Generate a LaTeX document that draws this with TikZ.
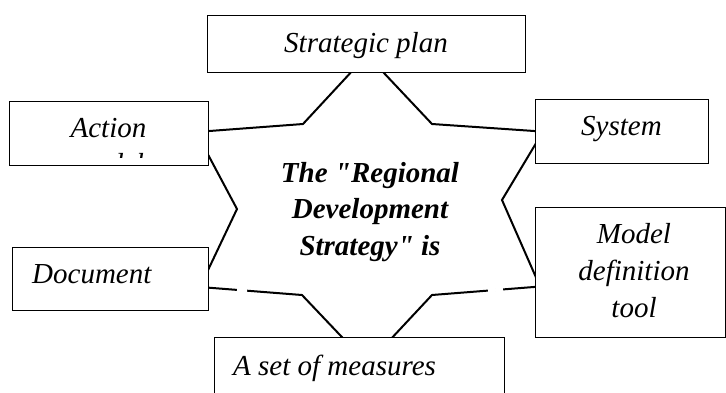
\documentclass[tikz,border=0pt]{standalone}
\usepackage{fontspec}
\setmainfont{Liberation Serif}[Ligatures=TeXOff]
\usetikzlibrary{calc}
\tikzset{
  box/.style={draw, line width=1.3pt, fill=white, inner sep=0pt, anchor=north west},
  starline/.style={draw, line width=2pt, line join=miter, fill=white},
  lbl/.style={font=\itshape\fontsize{29}{36.5}\selectfont, inner sep=0pt, anchor=base},
  lblw/.style={lbl, anchor=base west},
  clbl/.style={font=\bfseries\itshape\fontsize{29}{36.5}\selectfont, inner sep=0pt, anchor=base},
  gap/.style={draw=white, line width=3.5pt},
}
\begin{document}
\begin{tikzpicture}[x=1pt,y=-1pt]
\clip (0,0) rectangle (726,392);
\fill[white] (0,0) rectangle (726,392);
% star vertices
\coordinate (s0) at (367,55);
\coordinate (s1) at (432,124);
\coordinate (s2) at (543,131.6);
\coordinate (s3) at (502,200);
\coordinate (s4) at (540,286.5);
\coordinate (s5) at (432,295);
\coordinate (s6) at (367.5,364);
\coordinate (s7) at (302,295);
\coordinate (s8) at (200,287);
\coordinate (s9) at (237,209);
\coordinate (s10) at (196,132);
\coordinate (s11) at (303,124);
\path[starline] (s0) -- (s1) -- (s2) -- (s3) -- (s4) -- (s5) -- (s6) -- (s7) -- (s8) -- (s9) -- (s10) -- (s11) -- cycle;
\path[gap] ($(s8)!0.363!(s7)$) -- ($(s8)!0.461!(s7)$);
\path[gap] ($(s4)!0.343!(s5)$) -- ($(s4)!0.481!(s5)$);
% boxes
\node[box, minimum width=318pt, minimum height=57pt] (sp) at (207,15) {};
\node[box, minimum width=199pt, minimum height=64pt] (act) at (9,101) {};
\node[box, minimum width=173pt, minimum height=64pt] (sys) at (535,99) {};
\node[box, minimum width=196pt, minimum height=63pt] (doc) at (12,247) {};
\node[box, minimum width=190pt, minimum height=130pt] (mdt) at (535,207) {};
\node[box, minimum width=290pt, minimum height=70pt] (asm) at (214,337) {};
% labels
\node[lbl] (tsp) at (366,52) {Strategic plan};
\node[lbl] (tact) at (108.5,137) {Action};
\begin{scope}
\clip (10,102) rectangle (207,157.5);
\node[lbl] (tact2) at (108.5,173.5) {model};
\end{scope}
\node[lbl] (tsys) at (621.5,135) {System};
\node[lblw] (tdoc) at (32,283) {Document};
\node[lbl] (tm1) at (634,243) {Model};
\node[lbl] (tm2) at (634,280) {definition};
\node[lbl] (tm3) at (634,317) {tool};
\node[lblw] (tasm) at (233,375) {A set of measures};
\node[clbl] (c1) at (370,182) {The "Regional};
\node[clbl] (c2) at (370,218.5) {Development};
\node[clbl] (c3) at (370,255) {Strategy" is};
\end{tikzpicture}
\end{document}
